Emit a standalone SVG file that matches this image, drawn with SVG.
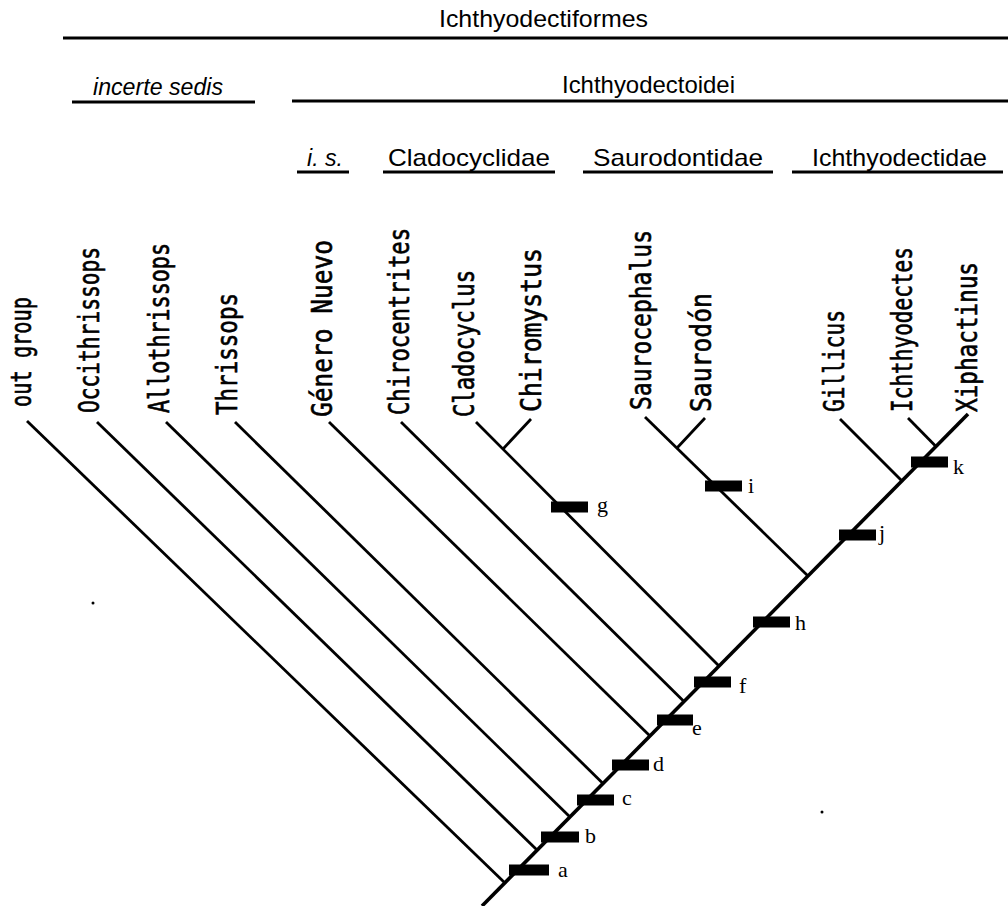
<svg xmlns="http://www.w3.org/2000/svg" width="1008" height="906" viewBox="0 0 1008 906">
<style>
.hdr{font-family:"Liberation Sans",Arial,sans-serif;font-size:24px;fill:#000}
.it{font-style:italic}
.tax{font-family:"DejaVu Sans Mono","Liberation Mono",monospace;font-size:22px;fill:#000;stroke:#000;stroke-width:0.5}
.lbl{font-family:"Liberation Serif","Times New Roman",serif;font-size:22px;fill:#000}
.hl{stroke:#000;stroke-width:2.8;fill:none}
.br{stroke:#000;stroke-width:2.8;fill:none;stroke-linecap:butt}
.sp{stroke:#000;stroke-width:3.6;fill:none}
.bar{fill:#000}
</style>
<rect width="1008" height="906" fill="#fff"/>
<g id="headers">
<text class="hdr" x="439" y="27" textLength="209" lengthAdjust="spacingAndGlyphs">Ichthyodectiformes</text>
<line class="hl" x1="63" y1="38" x2="1008" y2="38"/>
<text class="hdr it" x="93" y="95" textLength="130" lengthAdjust="spacingAndGlyphs">incerte sedis</text>
<line class="hl" x1="72" y1="102" x2="255" y2="102"/>
<text class="hdr" x="562" y="93" textLength="173" lengthAdjust="spacingAndGlyphs">Ichthyodectoidei</text>
<line class="hl" x1="292" y1="101" x2="1008" y2="101"/>
<text class="hdr it" x="307" y="166" textLength="36" lengthAdjust="spacingAndGlyphs">i. s.</text>
<line class="hl" x1="297" y1="172" x2="349" y2="172"/>
<text class="hdr" x="388" y="166" textLength="162" lengthAdjust="spacingAndGlyphs">Cladocyclidae</text>
<line class="hl" x1="383" y1="172" x2="555" y2="172"/>
<text class="hdr" x="593" y="166" textLength="170" lengthAdjust="spacingAndGlyphs">Saurodontidae</text>
<line class="hl" x1="583" y1="172" x2="773" y2="172"/>
<text class="hdr" x="812" y="166" textLength="175" lengthAdjust="spacingAndGlyphs">Ichthyodectidae</text>
<line class="hl" x1="792" y1="172" x2="1003" y2="172"/>
</g>
<g id="taxa">
<text class="tax" transform="translate(31,407) rotate(-90) scale(1,1.25)" textLength="110" lengthAdjust="spacingAndGlyphs">out group</text>
<text class="tax" transform="translate(99,413) rotate(-90) scale(1,1.25)" textLength="166" lengthAdjust="spacingAndGlyphs">Occithrissops</text>
<text class="tax" transform="translate(169,413) rotate(-90) scale(1,1.25)" textLength="170" lengthAdjust="spacingAndGlyphs">Allothrissops</text>
<text class="tax" transform="translate(237,415) rotate(-90) scale(1,1.25)" textLength="122" lengthAdjust="spacingAndGlyphs">Thrissops</text>
<text class="tax" transform="translate(332,417) rotate(-90) scale(1,1.25)" textLength="177" lengthAdjust="spacingAndGlyphs">Género Nuevo</text>
<text class="tax" transform="translate(409,415) rotate(-90) scale(1,1.25)" textLength="187" lengthAdjust="spacingAndGlyphs">Chirocentrites</text>
<text class="tax" transform="translate(474,417) rotate(-90) scale(1,1.25)" textLength="147" lengthAdjust="spacingAndGlyphs">Cladocyclus</text>
<text class="tax" transform="translate(541,412) rotate(-90) scale(1,1.25)" textLength="164" lengthAdjust="spacingAndGlyphs">Chiromystus</text>
<text class="tax" transform="translate(651,410) rotate(-90) scale(1,1.25)" textLength="180" lengthAdjust="spacingAndGlyphs">Saurocephalus</text>
<text class="tax" transform="translate(711,412) rotate(-90) scale(1,1.25)" textLength="119" lengthAdjust="spacingAndGlyphs">Saurodón</text>
<text class="tax" transform="translate(844,412) rotate(-90) scale(1,1.25)" textLength="102" lengthAdjust="spacingAndGlyphs">Gillicus</text>
<text class="tax" transform="translate(912,412) rotate(-90) scale(1,1.25)" textLength="165" lengthAdjust="spacingAndGlyphs">Ichthyodectes</text>
<text class="tax" transform="translate(977,412) rotate(-90) scale(1,1.25)" textLength="150" lengthAdjust="spacingAndGlyphs">Xiphactinus</text>
</g>
<g id="connectors">
<line class="sp" x1="482" y1="906" x2="968" y2="414"/>
<line class="br" x1="27" y1="421" x2="505" y2="883"/>
<line class="br" x1="97" y1="422" x2="537" y2="850"/>
<line class="br" x1="166" y1="422" x2="570" y2="817"/>
<line class="br" x1="235" y1="422" x2="603" y2="783.5"/>
<line class="br" x1="329" y1="422" x2="650" y2="736"/>
<line class="br" x1="401" y1="422" x2="684" y2="701.6"/>
<line class="br" x1="476" y1="422" x2="719" y2="666"/>
<line class="br" x1="531" y1="419" x2="503" y2="449"/>
<line class="br" x1="645" y1="417" x2="808" y2="576"/>
<line class="br" x1="705" y1="418" x2="677" y2="448"/>
<line class="br" x1="840" y1="419" x2="902" y2="481"/>
<line class="br" x1="908" y1="418" x2="936" y2="446.6"/>
</g>
<g id="characters">
<rect class="bar" x="509" y="864.5" width="40" height="11"/>
<text class="lbl" x="558" y="877">a</text>
<rect class="bar" x="541" y="831.5" width="38" height="11"/>
<text class="lbl" x="585" y="843">b</text>
<rect class="bar" x="577" y="794.5" width="37" height="11"/>
<text class="lbl" x="622" y="805">c</text>
<rect class="bar" x="612" y="759.5" width="37" height="11"/>
<text class="lbl" x="653" y="771">d</text>
<rect class="bar" x="657" y="714.5" width="36" height="11"/>
<text class="lbl" x="692" y="735">e</text>
<rect class="bar" x="694" y="676.5" width="37" height="11"/>
<text class="lbl" x="739" y="693">f</text>
<rect class="bar" x="551" y="501.5" width="37" height="11"/>
<text class="lbl" x="597" y="512">g</text>
<rect class="bar" x="753" y="616.5" width="37" height="11"/>
<text class="lbl" x="795" y="630">h</text>
<rect class="bar" x="705" y="480.5" width="37" height="11"/>
<text class="lbl" x="748" y="493">i</text>
<rect class="bar" x="839" y="529.5" width="37" height="11"/>
<text class="lbl" x="879" y="540">j</text>
<rect class="bar" x="911" y="456.5" width="37" height="11"/>
<text class="lbl" x="953" y="474">k</text>
</g>
<circle cx="93" cy="603" r="1.5" fill="#000"/>
<circle cx="822" cy="812" r="1.5" fill="#000"/>
</svg>
